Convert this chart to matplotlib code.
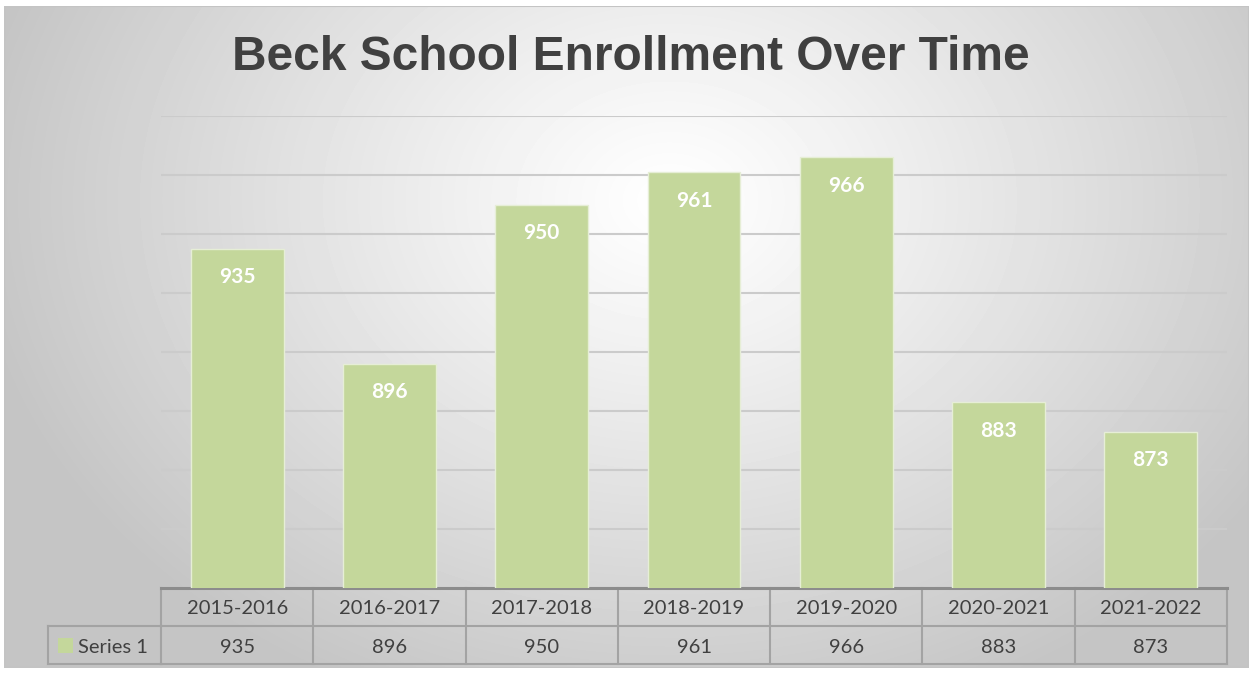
import numpy as np
import matplotlib.pyplot as plt
from matplotlib.transforms import blended_transform_factory

# Data
years = ['2015-2016', '2016-2017', '2017-2018', '2018-2019',
         '2019-2020', '2020-2021', '2021-2022']
enrollment = [935, 896, 950, 961, 966, 883, 873]
series_name = 'Series 1'
title = 'Beck School Enrollment Over Time'
y_min, y_max, y_step = 820, 980, 20

W, H = 1252, 674
fig = plt.figure(figsize=(W / 100, H / 100), dpi=100)
fig.patch.set_facecolor('white')

# background panel with radial gradient
bx0, by0, bx1, by1 = 4, 6, 1249, 668
bg = fig.add_axes([bx0 / W, 1 - by1 / H, (bx1 - bx0) / W, (by1 - by0) / H])
xx, yy = np.meshgrid(np.linspace(bx0, bx1, 400), np.linspace(by0, by1, 220))
r = np.sqrt(((xx - 670) / 900) ** 2 + ((yy - 200) / 700) ** 2)
shade = np.clip(1.0 - 0.30 * r ** 1.1, 0.77, 1.0)
bg.imshow(shade, cmap='gray', vmin=0, vmax=1, aspect='auto',
          extent=[0, 1, 0, 1], interpolation='bilinear')
bg.set_axis_off()
bg.add_patch(plt.Rectangle((0, 0), 1, 1, transform=bg.transAxes, fill=False,
                           edgecolor='#c4c4c4', lw=1.5))

# main plot area
left, right, top, bottom = 161, 1227, 116, 588
ax = fig.add_axes([left / W, 1 - bottom / H, (right - left) / W, (bottom - top) / H])
ax.patch.set_alpha(0)
x = np.arange(len(years))
bars = ax.bar(x, enrollment, width=0.61, color='#c4d79b', edgecolor='#e6eed6',
              linewidth=1.0, zorder=3)
ax.set_xlim(-0.5, len(years) - 0.5)
ax.set_ylim(y_min, y_max)
ax.set_yticks(np.arange(y_min, y_max + 1, y_step))
ax.yaxis.grid(True, color='#cbcbcb', lw=1.5, zorder=0)
ax.tick_params(left=False, bottom=False, labelleft=False, labelbottom=False)
for s in ['top', 'right', 'left']:
    ax.spines[s].set_visible(False)
ax.spines['bottom'].set_color('#8c8c8c')
ax.spines['bottom'].set_linewidth(2.2)

for xi, v in zip(x, enrollment):
    ax.annotate(str(v), (xi, v), xytext=(0, -20.5), textcoords='offset points',
                ha='center', va='center', color='white', fontsize=15,
                fontweight='bold', family='Lato', zorder=4)

fig.text(631 / W, 1 - 57 / H, title, ha='center', va='center', fontsize=34.5,
         fontweight='bold', color='#404040', family='Liberation Sans')

# data table under the axis
tr = blended_transform_factory(ax.transData, ax.transAxes)
ph = bottom - top
row1 = -(626 - bottom) / ph
row2 = -(664 - bottom) / ph
lc = '#a3a3a3'
for xi, (yr, v) in enumerate(zip(years, enrollment)):
    ax.text(xi, row1 / 2 - 0.004, yr, transform=tr, ha='center', va='center',
            fontsize=14.5, color='#404040', family='Lato')
    ax.text(xi, (row1 + row2) / 2 - 0.005, str(v), transform=tr, ha='center',
            va='center', fontsize=14.5, color='#404040', family='Lato')
for xb in np.arange(-0.5, len(years), 1.0):
    ax.plot([xb, xb], [0, row2], transform=tr, color=lc, lw=1.5, clip_on=False)
ax.plot([-0.5, len(years) - 0.5], [row1, row1], transform=tr, color=lc, lw=1.5,
        clip_on=False)
ax.plot([-0.5, len(years) - 0.5], [row2, row2], transform=tr, color=lc, lw=1.5,
        clip_on=False)

# legend cell
span = right - left
leg_x = (48 - left) / span
ax.plot([leg_x, 0], [row1, row1], transform=ax.transAxes, color=lc, lw=1.5,
        clip_on=False)
ax.plot([leg_x, 0], [row2, row2], transform=ax.transAxes, color=lc, lw=1.5,
        clip_on=False)
ax.plot([leg_x, leg_x], [row1, row2], transform=ax.transAxes, color=lc, lw=1.5,
        clip_on=False)
ax.add_patch(plt.Rectangle(((58 - left) / span, -(653 - bottom) / ph),
                           15 / span, 15 / ph, transform=ax.transAxes,
                           facecolor='#c4d79b', edgecolor='none', clip_on=False))
ax.text((78 - left) / span, (row1 + row2) / 2 - 0.005, series_name,
        transform=ax.transAxes, ha='left', va='center', fontsize=14.5,
        color='#404040', family='Lato')

fig.savefig('out.png', dpi=100)
